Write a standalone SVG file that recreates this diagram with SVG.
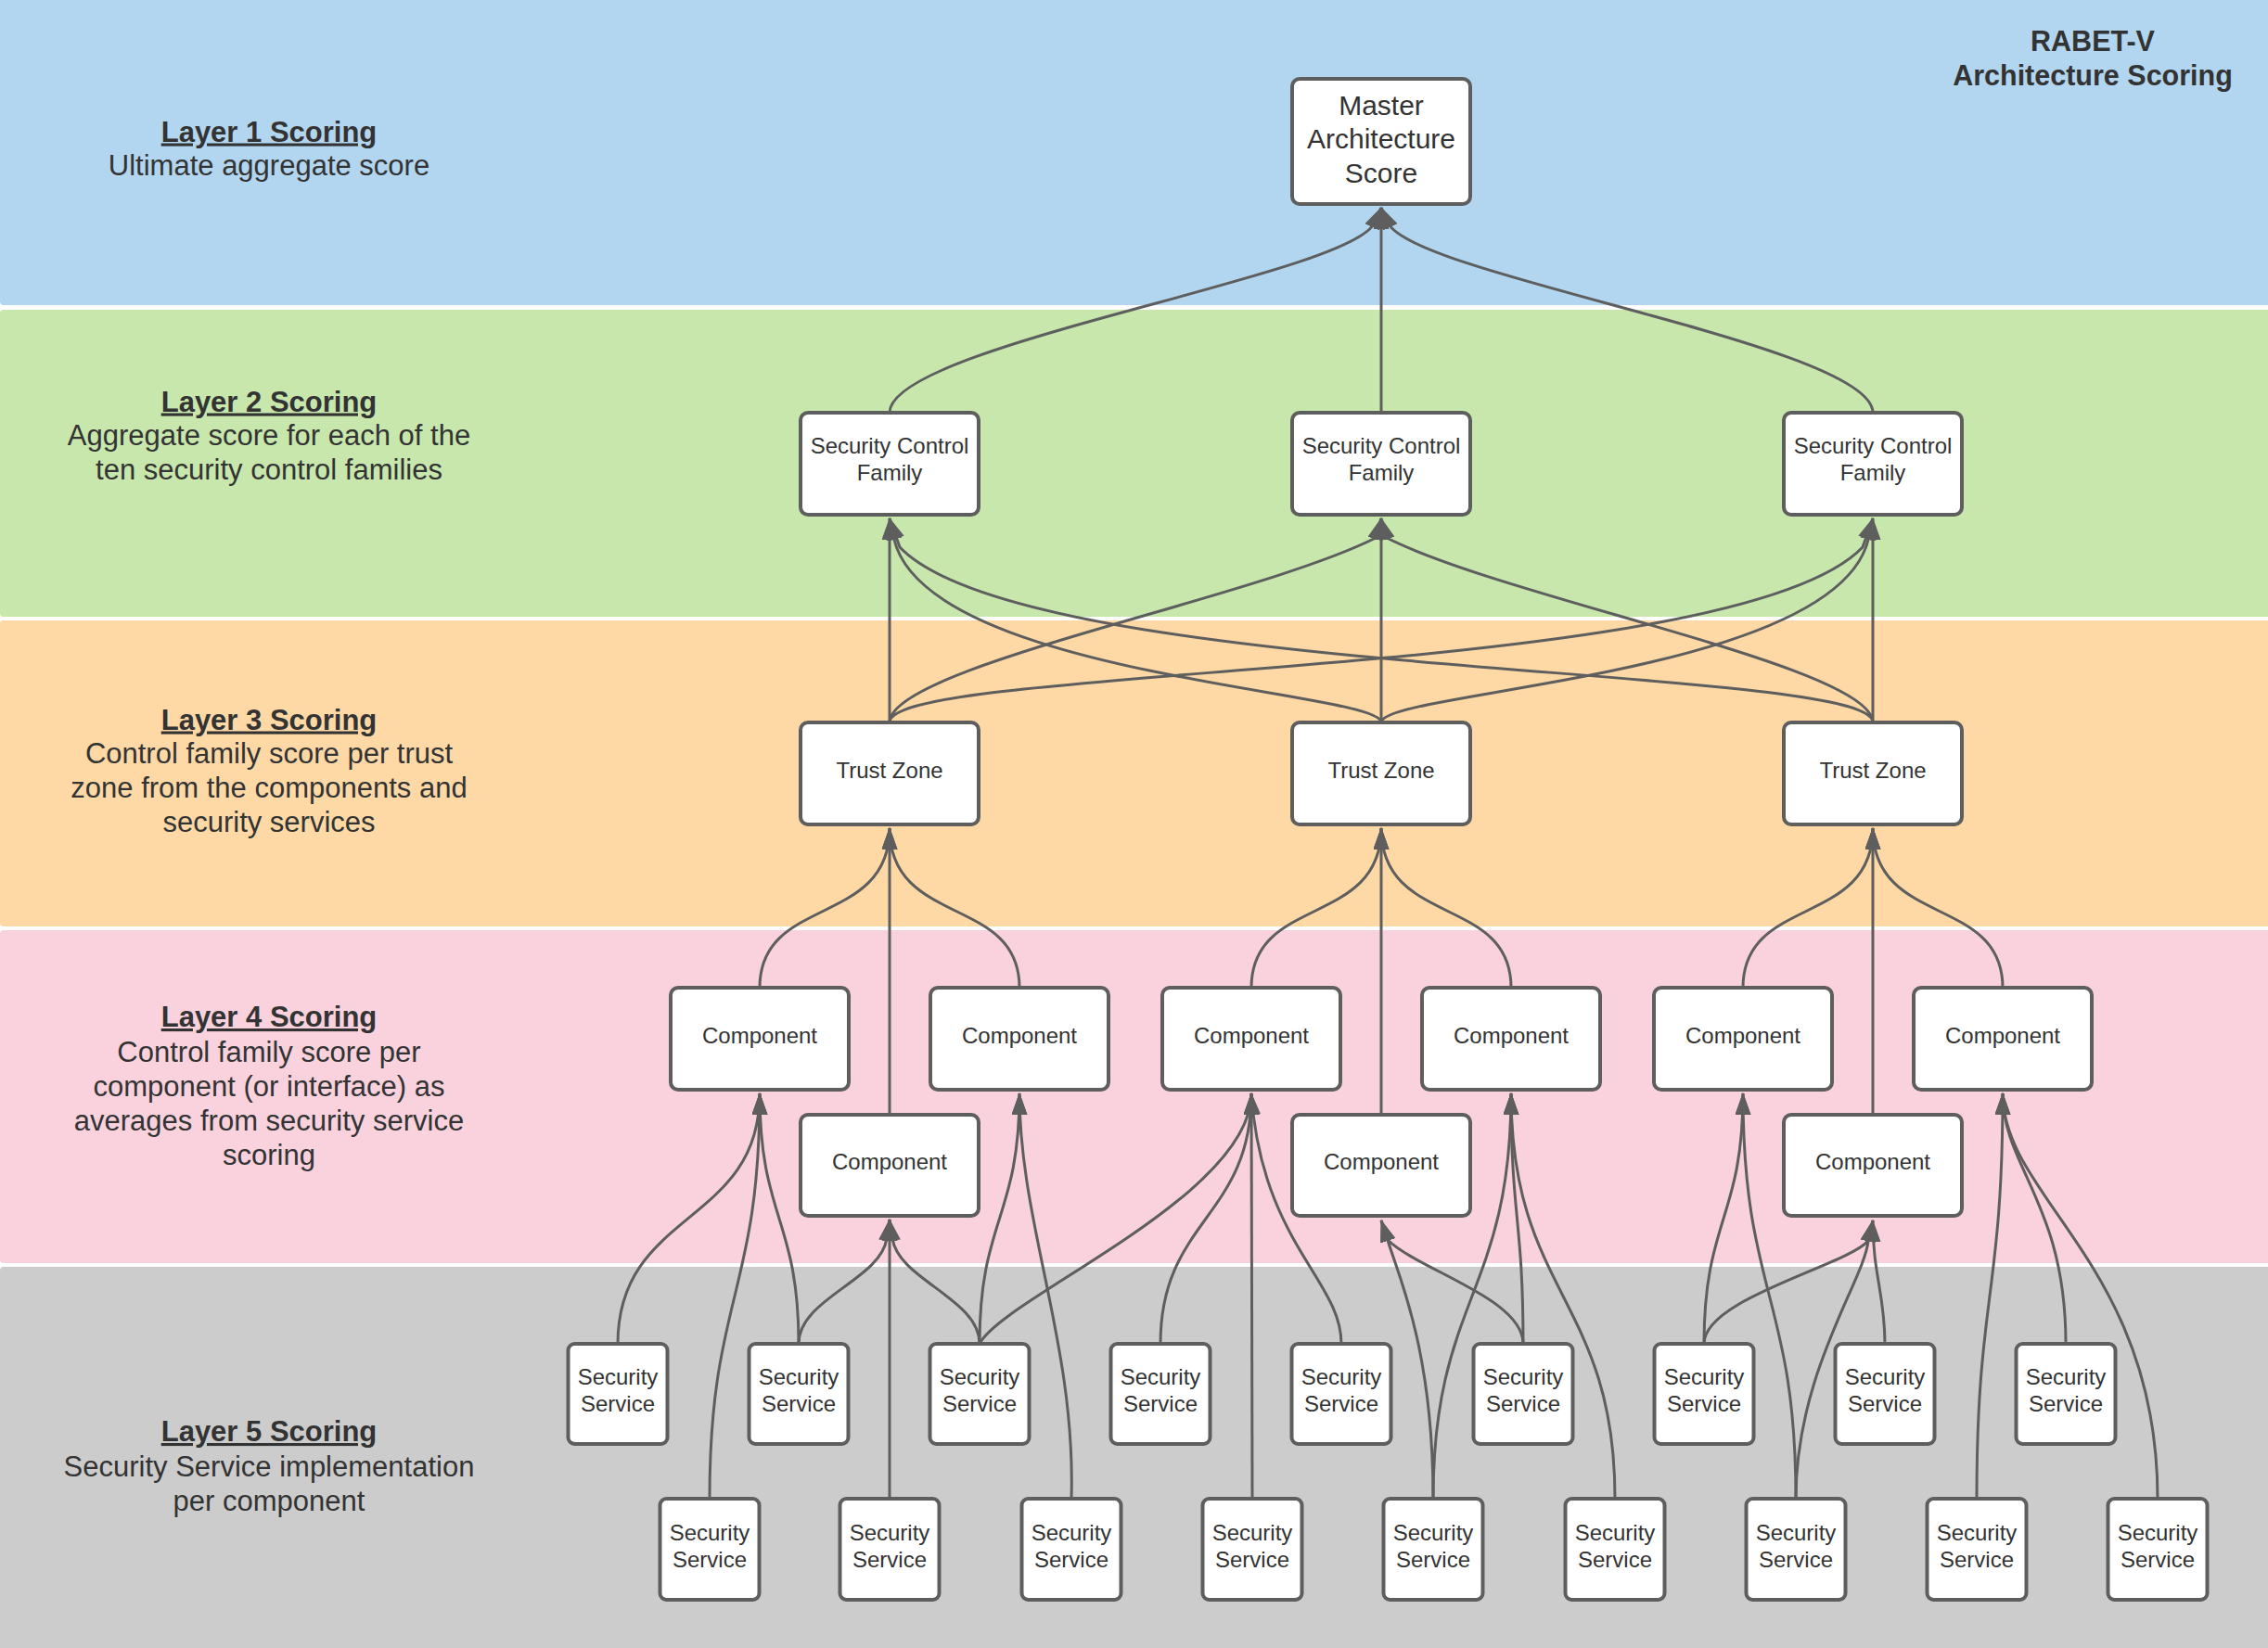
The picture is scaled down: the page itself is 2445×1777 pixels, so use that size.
<svg xmlns="http://www.w3.org/2000/svg" width="2445" height="1777" viewBox="0 0 2445 1777">
<defs>
<style>
.band{stroke:none}
.lbl{font-family:"Liberation Sans",Arial,sans-serif;font-size:31px;fill:#333333;text-anchor:middle}
.ttl{font-weight:bold;text-decoration:underline}
.box{fill:#ffffff;stroke:#5e5e5e;stroke-width:4}
.nt{font-family:"Liberation Sans",Arial,sans-serif;font-size:24px;fill:#333333;text-anchor:middle}
.mt{font-family:"Liberation Sans",Arial,sans-serif;font-size:30px;fill:#333333;text-anchor:middle}
.hd{font-family:"Liberation Sans",Arial,sans-serif;font-size:30.5px;font-weight:bold;fill:#333333;text-anchor:middle}
.cn{fill:none;stroke:#5e5e5e;stroke-width:3;marker-end:url(#ah)}
</style>
<marker id="ah" markerUnits="userSpaceOnUse" viewBox="0 0 24 17" markerWidth="24" markerHeight="17" refX="23" refY="8.5" orient="auto">
<path d="M0,0 L24,8.5 L0,17 Z" fill="#5e5e5e"/>
</marker>
</defs>
<rect x="0" y="0" width="2445" height="1777" fill="#ffffff"/>
<g id="bands">
<rect class="band" x="0" y="-6" width="2450" height="335" rx="4" fill="#b2d6ef"/>
<rect class="band" x="0" y="334" width="2450" height="331" rx="4" fill="#c7e7ad"/>
<rect class="band" x="0" y="669" width="2450" height="330" rx="4" fill="#fed9a6"/>
<rect class="band" x="0" y="1003" width="2450" height="359" rx="4" fill="#f9d2de"/>
<rect class="band" x="0" y="1366" width="2450" height="417" rx="4" fill="#cccccc"/>
</g>
<g id="layer-labels">
<text class="lbl"><tspan class="ttl" x="290" y="152.5">Layer 1 Scoring</tspan><tspan x="290" y="189">Ultimate aggregate score</tspan></text>
<text class="lbl"><tspan class="ttl" x="290" y="443.5">Layer 2 Scoring</tspan><tspan x="290" y="480">Aggregate score for each of the</tspan><tspan x="290" y="517">ten security control families</tspan></text>
<text class="lbl"><tspan class="ttl" x="290" y="786.5">Layer 3 Scoring</tspan><tspan x="290" y="823">Control family score per trust</tspan><tspan x="290" y="860">zone from the components and</tspan><tspan x="290" y="896.5">security services</tspan></text>
<text class="lbl"><tspan class="ttl" x="290" y="1107">Layer 4 Scoring</tspan><tspan x="290" y="1144.5">Control family score per</tspan><tspan x="290" y="1182">component (or interface) as</tspan><tspan x="290" y="1219">averages from security service</tspan><tspan x="290" y="1256">scoring</tspan></text>
<text class="lbl"><tspan class="ttl" x="290" y="1554">Layer 5 Scoring</tspan><tspan x="290" y="1591.5">Security Service implementation</tspan><tspan x="290" y="1629">per component</tspan></text>
</g>
<g id="title">
<text class="hd"><tspan x="2256" y="55">RABET-V</tspan><tspan x="2256" y="92">Architecture Scoring</tspan></text>
</g>
<g id="connectors">
<path class="cn" d="M959 445 C959 373 1440 300 1480 243 L1489 224"/>
<path class="cn" d="M1489 445 L1489 224"/>
<path class="cn" d="M2019 445 C2019 373 1538 300 1498 243 L1489 224"/>
<path class="cn" d="M959 779 L959 559"/>
<path class="cn" d="M959 779 C959 719 1349 647 1483 580 L1489 559"/>
<path class="cn" d="M959 779 C959 715 1870 735 2008 590 L2019 559"/>
<path class="cn" d="M1489 779 C1489 745 1000 730 964 582 L959 559"/>
<path class="cn" d="M1489 779 L1489 559"/>
<path class="cn" d="M1489 779 C1489 745 1978 730 2014 582 L2019 559"/>
<path class="cn" d="M2019 779 C2019 715 1108 735 970 590 L959 559"/>
<path class="cn" d="M2019 779 C2019 719 1629 647 1495 580 L1489 559"/>
<path class="cn" d="M2019 779 L2019 559"/>
<path class="cn" d="M819 1065 C819 965 959 1000 959 893"/>
<path class="cn" d="M959 1202 L959 893"/>
<path class="cn" d="M1099 1065 C1099 965 959 1000 959 893"/>
<path class="cn" d="M1349 1065 C1349 965 1489 1000 1489 893"/>
<path class="cn" d="M1489 1202 L1489 893"/>
<path class="cn" d="M1629 1065 C1629 965 1489 1000 1489 893"/>
<path class="cn" d="M1879 1065 C1879 965 2019 1000 2019 893"/>
<path class="cn" d="M2019 1202 L2019 893"/>
<path class="cn" d="M2159 1065 C2159 965 2019 1000 2019 893"/>
<path class="cn" d="M666 1449 C666 1304 819 1322 819 1179"/>
<path class="cn" d="M765 1616 C765 1400 819 1395 819 1179"/>
<path class="cn" d="M861 1449 C861 1315 819 1313 819 1179"/>
<path class="cn" d="M861 1449 C861 1400 950 1380 956 1335 L959 1315"/>
<path class="cn" d="M1056 1449 C1056 1400 968 1380 962 1335 L959 1315"/>
<path class="cn" d="M959 1616 L959 1315"/>
<path class="cn" d="M1056 1449 C1056 1315 1099 1313 1099 1179"/>
<path class="cn" d="M1155 1616 C1160 1450 1099 1320 1099 1179"/>
<path class="cn" d="M1056 1449 C1080 1400 1349 1290 1349 1179"/>
<path class="cn" d="M1251 1449 C1251 1315 1349 1313 1349 1179"/>
<path class="cn" d="M1350 1616 L1349 1179"/>
<path class="cn" d="M1446 1449 C1446 1380 1360 1340 1349 1179"/>
<path class="cn" d="M1642 1449 C1642 1400 1530 1370 1496 1337 L1489 1316"/>
<path class="cn" d="M1545 1616 C1545 1450 1505 1370 1496 1337 L1489 1316"/>
<path class="cn" d="M1545 1616 C1545 1400 1629 1395 1629 1179"/>
<path class="cn" d="M1642 1449 C1642 1315 1629 1313 1629 1179"/>
<path class="cn" d="M1741 1616 C1741 1400 1629 1395 1629 1179"/>
<path class="cn" d="M1837 1449 C1837 1315 1879 1313 1879 1179"/>
<path class="cn" d="M1837 1449 C1837 1400 1990 1365 2014 1338 L2019 1316"/>
<path class="cn" d="M1936 1616 C1936 1400 1879 1395 1879 1179"/>
<path class="cn" d="M1936 1616 C1936 1480 2010 1380 2014 1338 L2019 1316"/>
<path class="cn" d="M2032 1449 C2032 1395 2019 1375 2019 1316"/>
<path class="cn" d="M2131 1616 C2131 1400 2159 1395 2159 1179"/>
<path class="cn" d="M2227 1449 C2227 1297 2159 1259 2159 1179"/>
<path class="cn" d="M2326 1616 C2326 1364 2159 1292 2159 1179"/>
</g>
<g id="master"><rect class="box" x="1393" y="85" width="192" height="135" rx="8"/><text class="mt"><tspan x="1489" y="123.5">Master</tspan><tspan x="1489" y="160">Architecture</tspan><tspan x="1489" y="196.5">Score</tspan></text></g>
<g id="scf1"><rect class="box" x="863" y="445" width="192" height="110" rx="8"/><text class="nt"><tspan x="959" y="489">Security Control</tspan><tspan x="959" y="518">Family</tspan></text></g>
<g id="scf2"><rect class="box" x="1393" y="445" width="192" height="110" rx="8"/><text class="nt"><tspan x="1489" y="489">Security Control</tspan><tspan x="1489" y="518">Family</tspan></text></g>
<g id="scf3"><rect class="box" x="1923" y="445" width="192" height="110" rx="8"/><text class="nt"><tspan x="2019" y="489">Security Control</tspan><tspan x="2019" y="518">Family</tspan></text></g>
<g id="tz1"><rect class="box" x="863" y="779" width="192" height="110" rx="8"/><text class="nt" x="959" y="839">Trust Zone</text></g>
<g id="tz2"><rect class="box" x="1393" y="779" width="192" height="110" rx="8"/><text class="nt" x="1489" y="839">Trust Zone</text></g>
<g id="tz3"><rect class="box" x="1923" y="779" width="192" height="110" rx="8"/><text class="nt" x="2019" y="839">Trust Zone</text></g>
<g id="comp-a"><rect class="box" x="723" y="1065" width="192" height="110" rx="8"/><text class="nt" x="819" y="1125">Component</text></g>
<g id="comp-b"><rect class="box" x="1003" y="1065" width="192" height="110" rx="8"/><text class="nt" x="1099" y="1125">Component</text></g>
<g id="comp-c"><rect class="box" x="1253" y="1065" width="192" height="110" rx="8"/><text class="nt" x="1349" y="1125">Component</text></g>
<g id="comp-d"><rect class="box" x="1533" y="1065" width="192" height="110" rx="8"/><text class="nt" x="1629" y="1125">Component</text></g>
<g id="comp-e"><rect class="box" x="1783" y="1065" width="192" height="110" rx="8"/><text class="nt" x="1879" y="1125">Component</text></g>
<g id="comp-f"><rect class="box" x="2063" y="1065" width="192" height="110" rx="8"/><text class="nt" x="2159" y="1125">Component</text></g>
<g id="comp-l1"><rect class="box" x="863" y="1202" width="192" height="109" rx="8"/><text class="nt" x="959" y="1261">Component</text></g>
<g id="comp-l2"><rect class="box" x="1393" y="1202" width="192" height="109" rx="8"/><text class="nt" x="1489" y="1261">Component</text></g>
<g id="comp-l3"><rect class="box" x="1923" y="1202" width="192" height="109" rx="8"/><text class="nt" x="2019" y="1261">Component</text></g>
<g id="ss1a"><rect class="box" x="612.5" y="1449" width="107" height="108" rx="7"/><text class="nt"><tspan x="666" y="1493">Security</tspan><tspan x="666" y="1522">Service</tspan></text></g>
<g id="ss1b"><rect class="box" x="807.5" y="1449" width="107" height="108" rx="7"/><text class="nt"><tspan x="861" y="1493">Security</tspan><tspan x="861" y="1522">Service</tspan></text></g>
<g id="ss1c"><rect class="box" x="1002.5" y="1449" width="107" height="108" rx="7"/><text class="nt"><tspan x="1056" y="1493">Security</tspan><tspan x="1056" y="1522">Service</tspan></text></g>
<g id="ss1d"><rect class="box" x="1197.5" y="1449" width="107" height="108" rx="7"/><text class="nt"><tspan x="1251" y="1493">Security</tspan><tspan x="1251" y="1522">Service</tspan></text></g>
<g id="ss1e"><rect class="box" x="1392.5" y="1449" width="107" height="108" rx="7"/><text class="nt"><tspan x="1446" y="1493">Security</tspan><tspan x="1446" y="1522">Service</tspan></text></g>
<g id="ss1f"><rect class="box" x="1588.5" y="1449" width="107" height="108" rx="7"/><text class="nt"><tspan x="1642" y="1493">Security</tspan><tspan x="1642" y="1522">Service</tspan></text></g>
<g id="ss1g"><rect class="box" x="1783.5" y="1449" width="107" height="108" rx="7"/><text class="nt"><tspan x="1837" y="1493">Security</tspan><tspan x="1837" y="1522">Service</tspan></text></g>
<g id="ss1h"><rect class="box" x="1978.5" y="1449" width="107" height="108" rx="7"/><text class="nt"><tspan x="2032" y="1493">Security</tspan><tspan x="2032" y="1522">Service</tspan></text></g>
<g id="ss1i"><rect class="box" x="2173.5" y="1449" width="107" height="108" rx="7"/><text class="nt"><tspan x="2227" y="1493">Security</tspan><tspan x="2227" y="1522">Service</tspan></text></g>
<g id="ss2a"><rect class="box" x="711.5" y="1616" width="107" height="109" rx="7"/><text class="nt"><tspan x="765" y="1660.5">Security</tspan><tspan x="765" y="1689.5">Service</tspan></text></g>
<g id="ss2b"><rect class="box" x="905.5" y="1616" width="107" height="109" rx="7"/><text class="nt"><tspan x="959" y="1660.5">Security</tspan><tspan x="959" y="1689.5">Service</tspan></text></g>
<g id="ss2c"><rect class="box" x="1101.5" y="1616" width="107" height="109" rx="7"/><text class="nt"><tspan x="1155" y="1660.5">Security</tspan><tspan x="1155" y="1689.5">Service</tspan></text></g>
<g id="ss2d"><rect class="box" x="1296.5" y="1616" width="107" height="109" rx="7"/><text class="nt"><tspan x="1350" y="1660.5">Security</tspan><tspan x="1350" y="1689.5">Service</tspan></text></g>
<g id="ss2e"><rect class="box" x="1491.5" y="1616" width="107" height="109" rx="7"/><text class="nt"><tspan x="1545" y="1660.5">Security</tspan><tspan x="1545" y="1689.5">Service</tspan></text></g>
<g id="ss2f"><rect class="box" x="1687.5" y="1616" width="107" height="109" rx="7"/><text class="nt"><tspan x="1741" y="1660.5">Security</tspan><tspan x="1741" y="1689.5">Service</tspan></text></g>
<g id="ss2g"><rect class="box" x="1882.5" y="1616" width="107" height="109" rx="7"/><text class="nt"><tspan x="1936" y="1660.5">Security</tspan><tspan x="1936" y="1689.5">Service</tspan></text></g>
<g id="ss2h"><rect class="box" x="2077.5" y="1616" width="107" height="109" rx="7"/><text class="nt"><tspan x="2131" y="1660.5">Security</tspan><tspan x="2131" y="1689.5">Service</tspan></text></g>
<g id="ss2i"><rect class="box" x="2272.5" y="1616" width="107" height="109" rx="7"/><text class="nt"><tspan x="2326" y="1660.5">Security</tspan><tspan x="2326" y="1689.5">Service</tspan></text></g>
</svg>
